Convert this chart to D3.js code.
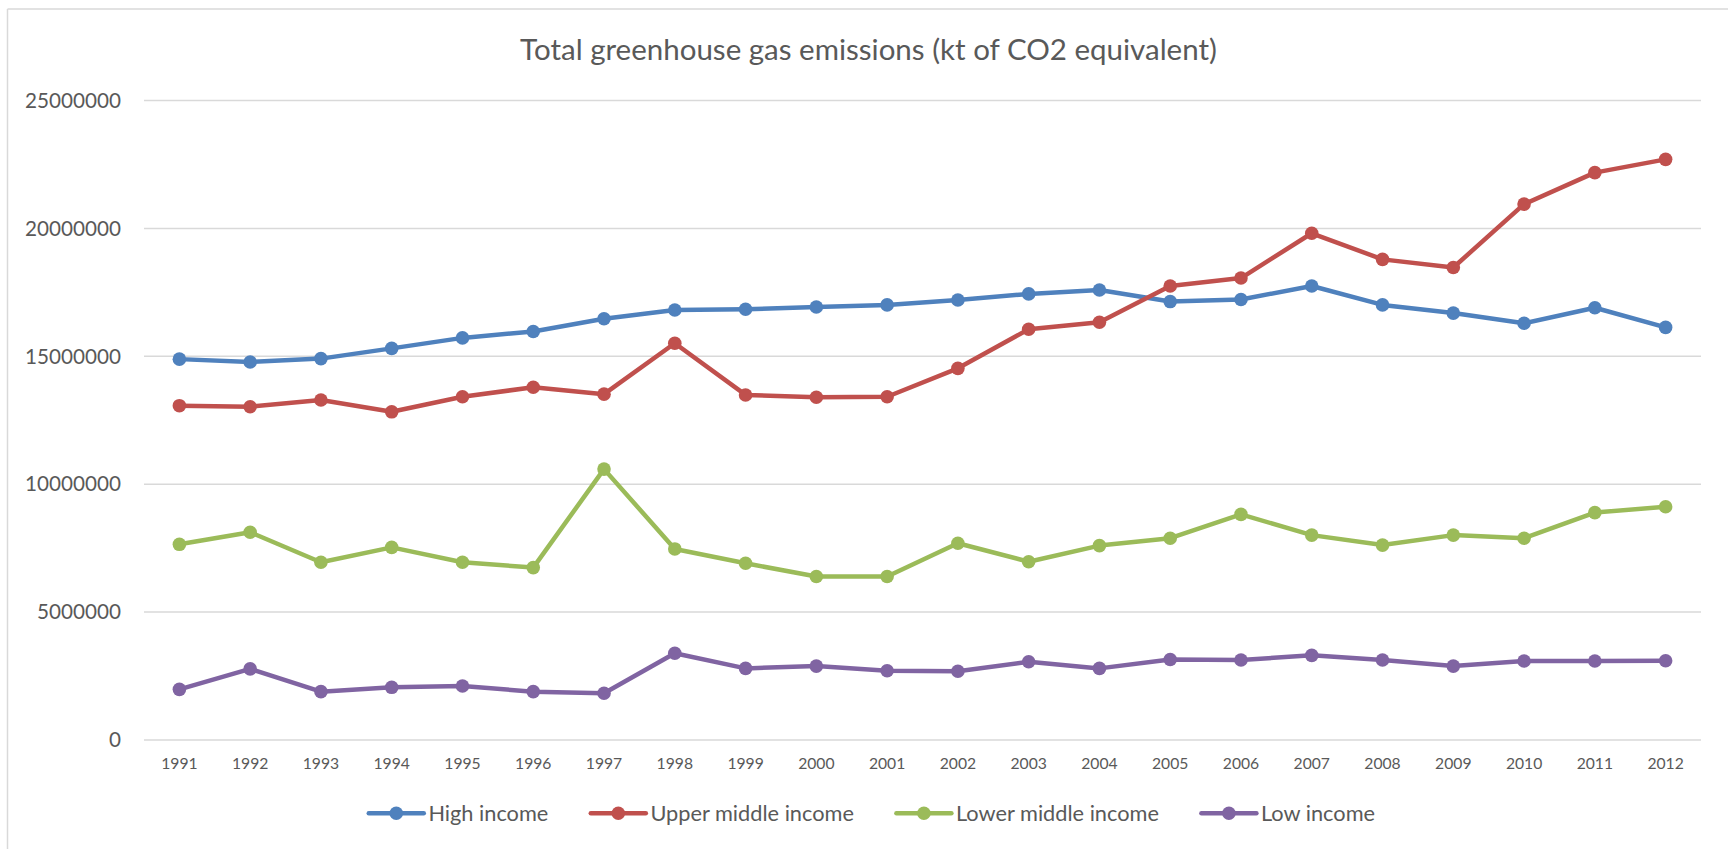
<!DOCTYPE html>
<html>
<head>
<meta charset="utf-8">
<script src="https://cdn.jsdelivr.net/npm/d3@7"></script>
<style>
  html, body { margin: 0; padding: 0; background: #fff; }
  svg { display: block; }
  text { font-family: Lato, "Open Sans", "Noto Sans", sans-serif; fill: #595959; }
</style>
</head>
<body>
<svg id="chart" width="1728" height="849"></svg>
<script>
// ---------- data ----------
const title = "Total greenhouse gas emissions (kt of CO2 equivalent)";
const years = ["1991","1992","1993","1994","1995","1996","1997","1998","1999","2000","2001","2002","2003","2004","2005","2006","2007","2008","2009","2010","2011","2012"];
const seriesNames = ["High income", "Upper middle income", "Lower middle income", "Low income"];
const seriesColors = ["#4F81BD", "#C0504D", "#9BBB59", "#8064A2"];
const highIncome = [14870000,14760000,14890000,15290000,15700000,15950000,16450000,16790000,16820000,16910000,16990000,17180000,17420000,17570000,17120000,17200000,17730000,16990000,16670000,16270000,16880000,16110000];
const upperMiddleIncome = [13050000,13010000,13270000,12810000,13400000,13770000,13500000,15490000,13470000,13380000,13400000,14510000,16040000,16310000,17730000,18040000,19790000,18770000,18450000,20930000,22160000,22680000];
const lowerMiddleIncome = [7630000,8100000,6930000,7510000,6930000,6720000,10570000,7450000,6890000,6370000,6370000,7670000,6950000,7580000,7870000,8800000,7990000,7600000,7990000,7870000,8870000,9100000];
const lowIncome = [1960000,2760000,1870000,2040000,2090000,1870000,1810000,3370000,2780000,2870000,2690000,2670000,3040000,2780000,3130000,3110000,3290000,3110000,2870000,3070000,3070000,3080000];
const yTicks = [0, 5000000, 10000000, 15000000, 20000000, 25000000];

const seriesValues = [highIncome, upperMiddleIncome, lowerMiddleIncome, lowIncome];

// ---------- layout ----------
const svg = d3.select("#chart");
const plot = { left: 144, right: 1701, top: 100, bottom: 739.5 };

// outer chart border (left + top edges visible)
svg.append("line").attr("x1", 7.5).attr("x2", 7.5).attr("y1", 9).attr("y2", 849)
  .attr("stroke", "#D9D9D9").attr("stroke-width", 1.5);
svg.append("line").attr("x1", 7.5).attr("x2", 1728).attr("y1", 9).attr("y2", 9)
  .attr("stroke", "#D9D9D9").attr("stroke-width", 1.5);

// helper: fit font size so that a text has the target width
function fitSize(str, target, base) {
  const t = svg.append("text").attr("font-size", base).text(str);
  const w = t.node().getComputedTextLength();
  t.remove();
  return base * target / w;
}

const x = d3.scaleBand().domain(years).range([plot.left, plot.right]).paddingInner(0).paddingOuter(0);
const cx = d => x(d) + x.bandwidth() / 2;
const y = d3.scaleLinear().domain([0, 25000000]).range([plot.bottom, plot.top]);

// title
const titleSize = fitSize(title, 697, 30);
svg.append("text").attr("x", 868.5).attr("y", 60).attr("text-anchor", "middle")
  .attr("font-size", titleSize).text(title);

// y axis with gridlines
const ySize = fitSize("25000000", 96, 24);
const yAxis = svg.append("g").attr("transform", `translate(${plot.left},0)`)
  .call(d3.axisLeft(y).tickValues(yTicks).tickFormat(d3.format("d"))
    .tickSizeInner(-(plot.right - plot.left)).tickSizeOuter(0).tickPadding(23));
yAxis.select(".domain").remove();
yAxis.selectAll(".tick line").attr("stroke", "#D9D9D9").attr("stroke-width", 1.5);
yAxis.selectAll(".tick text").attr("font-size", ySize).attr("font-family", null)
  .attr("fill", "#595959").attr("dy", "0.35em");
yAxis.attr("font-family", null);

// x axis labels
const xSize = fitSize("1991", 36.4, 18);
const xAxis = svg.append("g").attr("transform", `translate(0,${plot.bottom})`)
  .call(d3.axisBottom(x).tickSize(0).tickPadding(0));
xAxis.select(".domain").remove();
xAxis.attr("font-family", null);
xAxis.selectAll(".tick text").attr("font-size", xSize).attr("fill", "#595959")
  .attr("y", 24.5).attr("dy", "0.35em");

// series lines and markers
const line = d3.line().x((d, i) => cx(years[i])).y(d => y(d));
seriesValues.forEach((vals, si) => {
  const g = svg.append("g");
  g.append("path").datum(vals).attr("d", line).attr("fill", "none")
    .attr("stroke", seriesColors[si]).attr("stroke-width", 4.5)
    .attr("stroke-linejoin", "round").attr("stroke-linecap", "round");
  g.selectAll("circle").data(vals).join("circle")
    .attr("cx", (d, i) => cx(years[i])).attr("cy", d => y(d))
    .attr("r", 6.8).attr("fill", seriesColors[si]);
});

// legend
const legSize = fitSize("High income", 120, 24);
const legY = 813.3;
const symW = 55, gapText = 4.6, gapItem = 42.5;
const widths = seriesNames.map(n => {
  const t = svg.append("text").attr("font-size", legSize).text(n);
  const w = t.node().getComputedTextLength(); t.remove(); return w;
});
const total = d3.sum(widths) + seriesNames.length * (symW + gapText) + (seriesNames.length - 1) * gapItem;
let lx = 871.9 - total / 2;
const legend = svg.append("g");
seriesNames.forEach((n, i) => {
  legend.append("line").attr("x1", lx).attr("x2", lx + symW).attr("y1", legY).attr("y2", legY)
    .attr("stroke", seriesColors[i]).attr("stroke-width", 4.5).attr("stroke-linecap", "round");
  legend.append("circle").attr("cx", lx + symW / 2).attr("cy", legY).attr("r", 6.8).attr("fill", seriesColors[i]);
  legend.append("text").attr("x", lx + symW + gapText).attr("y", legY).attr("dy", "0.35em")
    .attr("font-size", legSize).text(n);
  lx += symW + gapText + widths[i] + gapItem;
});
</script>
</body>
</html>
